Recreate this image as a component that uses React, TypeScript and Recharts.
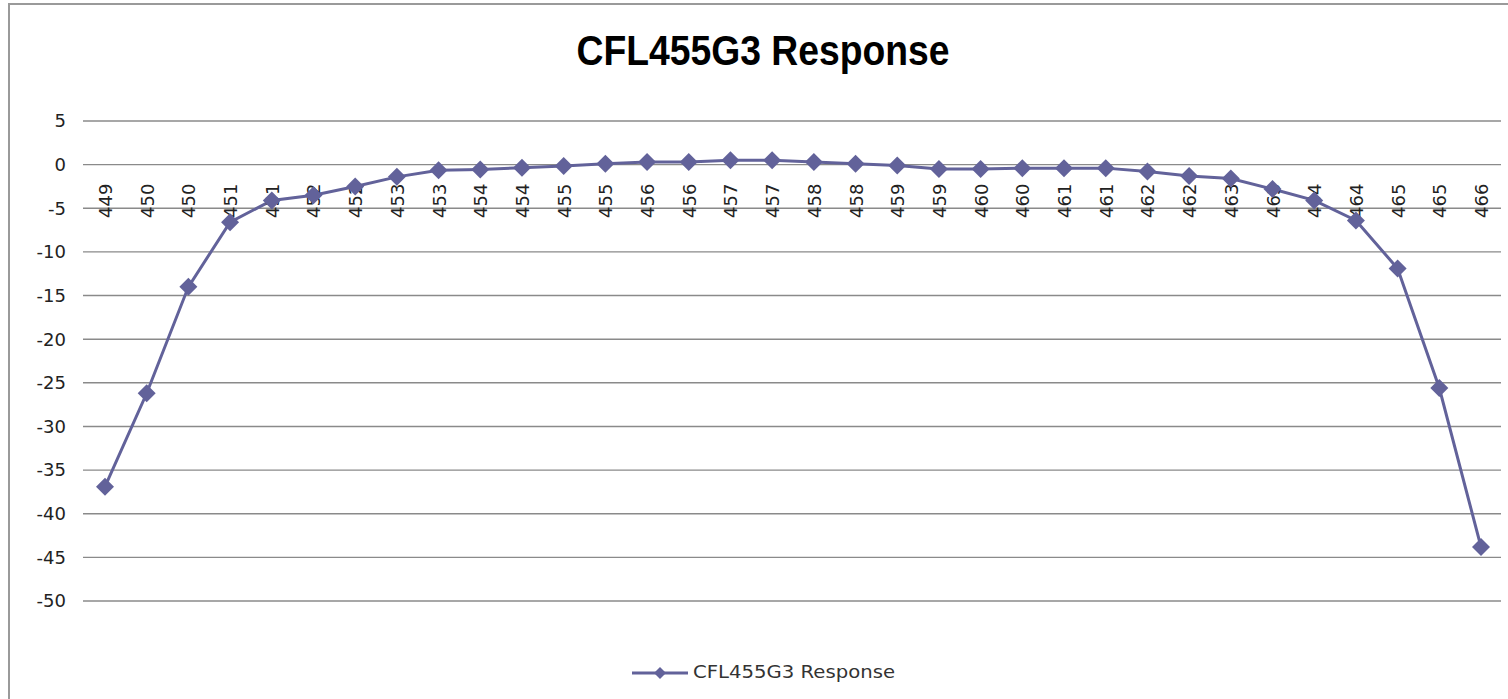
import React from "react";
import { LineChart, Line, XAxis, YAxis, CartesianGrid, ReferenceDot } from "recharts";

const freqLabels = [
  "449", "450", "450", "451", "451", "452", "452", "453", "453", "454", "454", "455",
  "455", "456", "456", "457", "457", "458", "458", "459", "459", "460", "460", "461",
  "461", "462", "462", "463", "463", "464", "464", "465", "465", "466",
];
const response = [
  -36.9, -26.2, -14.0, -6.6, -4.1, -3.5, -2.5, -1.4, -0.65, -0.55, -0.35, -0.15,
  0.1, 0.3, 0.3, 0.5, 0.5, 0.3, 0.1, -0.1, -0.5, -0.5, -0.4, -0.4,
  -0.4, -0.8, -1.3, -1.6, -2.8, -4.1, -6.4, -11.9, -25.6, -43.8,
];
const yTicks = [5, 0, -5, -10, -15, -20, -25, -30, -35, -40, -45, -50];

const SERIES = "CFL455G3 Response";
const COLOR = "#62629a";
const FONT = "DejaVu Sans";

const data = freqLabels.map((label, idx) => ({ idx, label, value: response[idx] }));

const Diamond = (props: any) => {
  const { cx, cy } = props;
  if (cx == null || cy == null) return null;
  const r = 9;
  return (
    <polygon
      points={`${cx},${cy - r} ${cx + r},${cy} ${cx},${cy + r} ${cx - r},${cy}`}
      fill={COLOR}
      stroke="none"
    />
  );
};

const tickLabel = (text: string) => (p: any) => {
  const vb = p.viewBox || {};
  const cx = (vb.x ?? 0) + (vb.width ?? 0) / 2;
  const cy = (vb.y ?? 0) + (vb.height ?? 0) / 2;
  return (
    <text
      transform={`translate(${cx + 7},${cy + 19}) rotate(-90)`}
      textAnchor="end"
      fontFamily={FONT}
      fontSize={18}
      fill="#222"
    >
      {text}
    </text>
  );
};

export default function App() {
  return (
    <div style={{ position: "absolute", left: 0, top: 0, width: 1508, height: 699, background: "#fff", overflow: "hidden" }}>
      <div
        style={{
          position: "absolute",
          left: 8,
          top: 3,
          width: 1500,
          height: 696,
          borderLeft: "2px solid #9a9a9a",
          borderTop: "2px solid #9a9a9a",
        }}
      />
      <svg style={{ position: "absolute", left: 0, top: 0 }} width={1508} height={100}>
        <text
          x={763}
          y={65}
          textAnchor="middle"
          fontFamily="Liberation Sans"
          fontWeight="bold"
          fontSize={43}
          textLength={373}
          lengthAdjust="spacingAndGlyphs"
          fill="#000"
        >
          {SERIES}
        </text>
      </svg>
      <div style={{ position: "absolute", left: 0, top: 0 }}>
        <LineChart width={1508} height={699} data={data} margin={{ top: 121, right: 7, bottom: 98, left: 23 }}>
          <CartesianGrid horizontal vertical={false} stroke="#8a8a8a" strokeWidth={1.4} />
          <XAxis dataKey="idx" type="category" hide padding={{ left: 22, right: 20 }} />
          <YAxis
            type="number"
            domain={[-50, 5]}
            ticks={yTicks}
            interval={0}
            width={60}
            axisLine={false}
            tickLine={false}
            tickSize={0}
            tickMargin={17}
            tick={{ fontFamily: FONT, fontSize: 18, fill: "#222" }}
          />
          {data.map((d) => (
            <ReferenceDot
              key={d.idx}
              x={d.idx}
              y={0}
              r={0}
              fill="none"
              stroke="none"
              label={{ content: tickLabel(d.label) }}
            />
          ))}
          <Line
            dataKey="value"
            name={SERIES}
            stroke={COLOR}
            strokeWidth={3}
            dot={<Diamond />}
            activeDot={false}
            isAnimationActive={false}
          />
        </LineChart>
      </div>
      <svg style={{ position: "absolute", left: 0, top: 640 }} width={1508} height={59}>
        <line x1={632} y1={33} x2={688} y2={33} stroke={COLOR} strokeWidth={3} />
        <polygon points="660,27 666,33 660,39 654,33" fill={COLOR} />
        <text
          x={693}
          y={38}
          fontFamily={FONT}
          fontSize={17}
          textLength={202}
          lengthAdjust="spacingAndGlyphs"
          fill="#333"
        >
          {SERIES}
        </text>
      </svg>
    </div>
  );
}
